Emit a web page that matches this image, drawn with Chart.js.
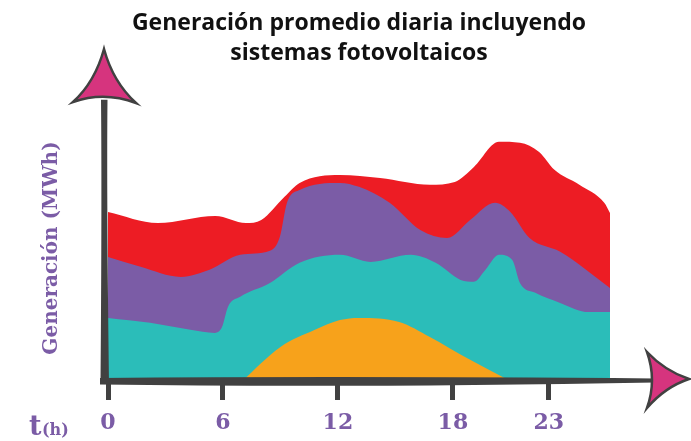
<!DOCTYPE html>
<html>
<head>
<meta charset="utf-8">
<script src="https://cdn.jsdelivr.net/npm/chart.js@4.4.1/dist/chart.umd.min.js"></script>
<style>
  html, body { margin: 0; padding: 0; background: #fff; }
  #wrap { width: 691px; height: 441px; }
</style>
</head>
<body>
<div id="wrap"><canvas id="genChart" width="691" height="441"></canvas></div>
<script>
// horas del dia y generacion (unidades relativas, 0-100)
const xTicks = [0, 6, 12, 18, 23];

const redHours  = [0, 2.6, 5.6, 7.2, 8.0, 9.2, 10.0, 12.1, 14.2, 16.8, 18.1, 19.1, 20.4, 21.5, 22.5, 23.3, 24.6, 25.9, 26.2];
const redValues = [55.2, 51.6, 53.9, 51.6, 52.6, 60.1, 64.7, 67.3, 66.3, 64.1, 65.0, 69.9, 78.1, 77.8, 74.8, 69.0, 64.1, 58.2, 54.9];

const purpleHours  = [0, 1.7, 3.8, 5.3, 6.9, 8.45, 8.97, 9.34, 10.0, 12.1, 13.1, 14.7, 16.3, 17.7, 18.9, 20.2, 21.0, 22.0, 23.6, 26.2];
const purpleValues = [40.5, 37.3, 34.0, 36.3, 41.2, 42.5, 47.1, 58.2, 62.4, 64.7, 63.4, 58.2, 49.3, 46.7, 52.6, 58.2, 55.2, 46.7, 42.2, 30.4];

const tealHours  = [0, 2.2, 4.3, 5.58, 5.95, 6.26, 6.9, 8.45, 10.0, 12.1, 13.7, 15.8, 17.1, 18.4, 19.1, 19.7, 20.4, 21.1, 21.5, 22.3, 23.6, 25.1, 26.2];
const tealValues = [20.6, 19.0, 16.7, 15.7, 17.6, 24.2, 27.5, 32.0, 38.6, 41.2, 38.9, 41.2, 38.6, 33.0, 32.4, 36.3, 41.2, 39.5, 32.0, 28.8, 25.5, 22.5, 22.5];

const orangeHours  = [7.0, 9.0, 10.8, 12.1, 13.1, 15.2, 16.8, 18.9, 21.0];
const orangeValues = [0, 11.1, 16.7, 19.9, 20.6, 19.3, 14.4, 6.9, 0];

function toPoints(hours, values) {
    return hours.map(function(h, i) { return { x: h, y: values[i] }; });
}

// ejes dibujados a mano: linea gruesa gris y puntas de flecha rosas
const arrowAxes = {
    id: 'arrowAxes',
    afterDatasetsDraw: function(chart) {
        const ctx = chart.ctx;
        const a = chart.chartArea;
        const gray = '#414141';
        const pink = '#D6347E';
        const x0 = a.left - 4;
        const base = a.bottom;

        ctx.save();
        ctx.fillStyle = gray;

        // eje vertical
        ctx.beginPath();
        ctx.moveTo(x0 - 3.5, base + 3);
        ctx.quadraticCurveTo(x0 - 2, a.top + 120, x0 - 3, a.top + 25);
        ctx.lineTo(x0 + 3.5, a.top + 25);
        ctx.quadraticCurveTo(x0 + 2.5, a.top + 120, x0 + 5, base + 3);
        ctx.closePath();
        ctx.fill();

        // eje horizontal
        ctx.beginPath();
        ctx.moveTo(x0 - 4, base - 3);
        ctx.quadraticCurveTo(350, base - 5, 655, base - 2.5);
        ctx.lineTo(655, base + 1.5);
        ctx.quadraticCurveTo(350, base + 7, x0 - 4, base + 3.5);
        ctx.closePath();
        ctx.fill();

        ctx.fillStyle = pink;
        ctx.strokeStyle = gray;
        ctx.lineWidth = 2.5;
        ctx.lineJoin = 'miter';

        // flecha vertical
        const ty = 49;
        ctx.beginPath();
        ctx.moveTo(x0, ty);
        ctx.quadraticCurveTo(x0 + 9, ty + 33, x0 + 32, ty + 54);
        ctx.quadraticCurveTo(x0, ty + 42, x0 - 31, ty + 53);
        ctx.quadraticCurveTo(x0 - 9, ty + 33, x0, ty);
        ctx.closePath();
        ctx.fill();
        ctx.stroke();

        // flecha horizontal
        const tx = 689;
        const my = base - 2;
        ctx.beginPath();
        ctx.moveTo(tx, my);
        ctx.quadraticCurveTo(tx - 24, my + 8, tx - 42, my + 29);
        ctx.quadraticCurveTo(tx - 32, my + 1, tx - 42, my - 27);
        ctx.quadraticCurveTo(tx - 24, my - 8, tx, my);
        ctx.closePath();
        ctx.fill();
        ctx.stroke();

        // textos de los ejes
        ctx.fillStyle = '#7B5CA6';
        ctx.textBaseline = 'alphabetic';
        ctx.textAlign = 'left';
        ctx.font = 'bold 27px "DejaVu Serif"';
        ctx.fillText('t', 29, 435);
        ctx.font = 'bold 16px "DejaVu Serif"';
        ctx.fillText('(h)', 42, 435);

        ctx.translate(52, 248);
        ctx.rotate(-Math.PI / 2);
        ctx.textAlign = 'center';
        ctx.textBaseline = 'middle';
        ctx.font = 'bold 20px "DejaVu Serif"';
        ctx.fillText('Generación (MWh)', 0, 0);
        ctx.restore();
    }
};

document.addEventListener('DOMContentLoaded', function() {
    const ctx = document.getElementById('genChart').getContext('2d');

    const areaStyle = {
        fill: 'origin',
        borderWidth: 0,
        pointRadius: 0,
        cubicInterpolationMode: 'monotone'
    };

    new Chart(ctx, {
        type: 'line',
        data: {
            datasets: [
                Object.assign({ label: 'Solar', data: toPoints(orangeHours, orangeValues), backgroundColor: '#F7A21B', order: 1 }, areaStyle),
                Object.assign({ label: 'Base', data: toPoints(tealHours, tealValues), backgroundColor: '#2BBDB9', order: 2 }, areaStyle),
                Object.assign({ label: 'Intermedia', data: toPoints(purpleHours, purpleValues), backgroundColor: '#7B5CA6', order: 3 }, areaStyle),
                Object.assign({ label: 'Punta', data: toPoints(redHours, redValues), backgroundColor: '#ED1C24', order: 4 }, areaStyle)
            ]
        },
        options: {
            responsive: false,
            animation: false,
            layout: {
                // el eje x cuenta el padding de las etiquetas dos veces
                padding: { left: 108, right: 81, top: 0, bottom: -5 }
            },
            scales: {
                x: {
                    type: 'linear',
                    min: 0,
                    max: 26.2,
                    afterBuildTicks: function(scale) {
                        scale.ticks = xTicks.map(function(v) { return { value: v }; });
                    },
                    border: { display: false },
                    grid: {
                        display: true,
                        drawOnChartArea: false,
                        drawTicks: true,
                        tickLength: 19,
                        tickWidth: 5,
                        tickColor: '#414141'
                    },
                    ticks: {
                        autoSkip: false,
                        maxRotation: 0,
                        padding: 12,
                        color: '#7B5CA6',
                        font: { family: 'DejaVu Serif', weight: 'bold', size: 22, lineHeight: 1 }
                    }
                },
                y: {
                    display: false,
                    min: 0,
                    max: 100
                }
            },
            plugins: {
                legend: { display: false },
                tooltip: { enabled: false },
                title: {
                    display: true,
                    text: ['Generación promedio diaria incluyendo', 'sistemas fotovoltaicos'],
                    color: '#111',
                    padding: { top: 9, bottom: 6 },
                    font: { family: 'Open Sans', weight: 'bold', size: 23, lineHeight: 1.3 }
                }
            }
        },
        plugins: [arrowAxes]
    });
});
</script>
</body>
</html>
